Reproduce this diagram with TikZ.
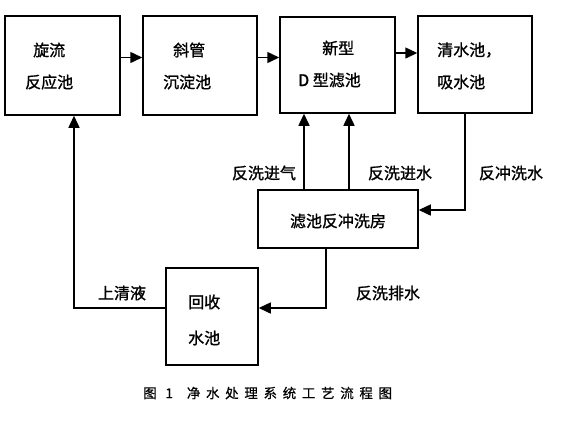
\documentclass[tikz,border=0pt]{standalone}
\usepackage{fontspec}
\setmainfont{Noto Sans CJK SC}[FakeBold=1.2]
\newfontfamily\capfont[LetterSpace=42,FakeBold=0.6]{Noto Sans CJK SC}
\usetikzlibrary{arrows.meta}
\tikzset{
  box/.style={draw, line width=1.5pt, inner sep=0pt},
  txt/.style={inner sep=0pt, anchor=west, font=\fontsize{16}{18}\selectfont},
  lbl/.style={inner sep=0pt, font=\fontsize{16}{18}\selectfont},
  arr/.style={line width=1.5pt, -{Triangle[length=12pt,width=11pt]}},
  ln/.style={line width=1.5pt}
}
\begin{document}
\begin{tikzpicture}[x=1pt,y=-1pt]
\useasboundingbox[fill=white] (0,0) rectangle (561,424);
% boxes
\node[box, minimum width=115pt, minimum height=99pt] (b1) at (62.5,65.5) {};
\node[box, minimum width=114pt, minimum height=99pt] (b2) at (200,65.5) {};
\node[box, minimum width=115pt, minimum height=96pt] (b3) at (337.5,65) {};
\node[box, minimum width=114pt, minimum height=97pt] (b4) at (475,64.5) {};
\node[box, minimum width=160pt, minimum height=58pt] (bw) at (338,219) {};
\node[box, minimum width=92pt, minimum height=97pt] (rec) at (212,316.5) {};
% box texts
\node[txt] (t1a) at (33,50) {旋流};
\node[txt] (t1b) at (25,82) {反应池};
\node[txt] (t2a) at (173,50) {斜管};
\node[txt] (t2b) at (163,82) {沉淀池};
\node[txt] (t3a) at (322,48) {新型};
\node[txt] (t3b) at (298,80) {D 型滤池};
\node[txt] (t4a) at (437,50) {清水池，};
\node[txt] (t4b) at (437,82) {吸水池};
\node[lbl] (tbw) at (338,221) {滤池反冲洗房};
\node[txt] (tra) at (188,302) {回收};
\node[txt] (trb) at (188,338) {水池};
% labels
\node[lbl] (l1) at (264,173) {反洗进气};
\node[lbl] (l2) at (400,173) {反洗进水};
\node[lbl] (l3) at (511,173) {反冲洗水};
\node[lbl] (l4) at (122,293) {上清液};
\node[lbl] (l5) at (388,293) {反洗排水};
% caption
\node[inner sep=0pt, anchor=west, font=\capfont\fontsize{13.5}{15}\selectfont] (cap) at (143,393) {图 1\hspace{14pt}净水处理系统工艺流程图};
% connectors
\draw[arr] ([yshift=8pt]b1.east) -- ([yshift=8pt]b2.west);
\draw[arr] ([yshift=8pt]b2.east) -- ([yshift=8pt]b3.west |- b2.east);
\draw[arr] ([yshift=12pt]b3.east) -- ([yshift=11.5pt]b4.west);
\draw[arr] ([xshift=-34pt]bw.north) -- ([xshift=-34pt]bw.north |- b3.south);
\draw[arr] ([xshift=11pt]bw.north) -- ([xshift=11pt]bw.north |- b3.south);
\draw[arr] ([xshift=-10pt]b4.south) |- ([yshift=9pt]bw.east);
\draw[arr] ([xshift=-12pt]bw.south) |- ([yshift=8.5pt]rec.east);
\draw[arr] ([yshift=8.5pt]rec.west) -| ([xshift=11.5pt]b1.south);
\end{tikzpicture}
\end{document}
